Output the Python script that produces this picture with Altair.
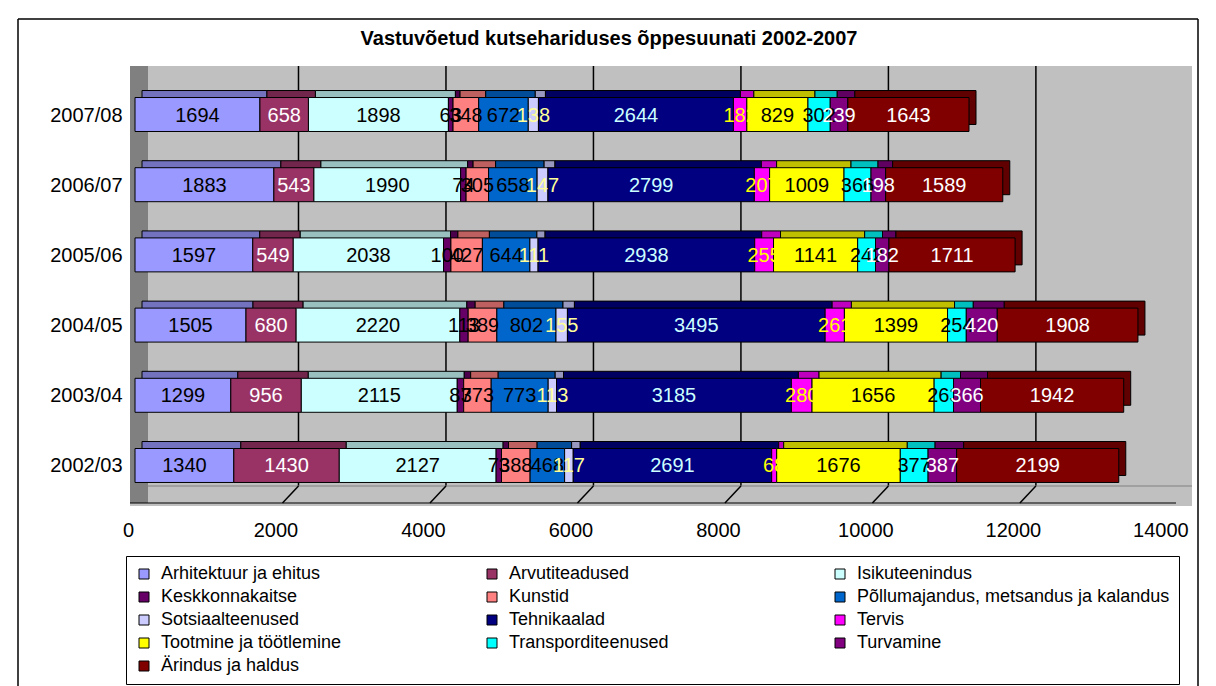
import altair as alt
import pandas as pd

F = "Liberation Sans"

years = ["2002/03", "2003/04", "2004/05", "2005/06", "2006/07", "2007/08"]
series = [
    "Arhitektuur ja ehitus", "Arvutiteadused", "Isikuteenindus",
    "Keskkonnakaitse", "Kunstid", "Põllumajandus, metsandus ja kalandus",
    "Sotsiaalteenused", "Tehnikaalad", "Tervis",
    "Tootmine ja töötlemine", "Transporditeenused", "Turvamine",
    "Ärindus ja haldus",
]
# values per series, in the order of `years`
arhitektuur = [1340, 1299, 1505, 1597, 1883, 1694]
arvutiteadused = [1430, 956, 680, 549, 543, 658]
isikuteenindus = [2127, 2115, 2220, 2038, 1990, 1898]
keskkonnakaitse = [73, 87, 113, 100, 74, 63]
kunstid = [388, 373, 389, 427, 305, 348]
pollumajandus = [468, 773, 802, 644, 658, 672]
sotsiaalteenused = [117, 113, 155, 111, 147, 138]
tehnikaalad = [2691, 3185, 3495, 2938, 2799, 2644]
tervis = [68, 280, 261, 255, 207, 182]
tootmine = [1676, 1656, 1399, 1141, 1009, 829]
transport = [377, 263, 254, 242, 366, 302]
turvamine = [387, 366, 420, 182, 198, 239]
arindus = [2199, 1942, 1908, 1711, 1589, 1643]

title_text = "Vastuvõetud kutsehariduses õppesuunati 2002-2007"
x_ticks = [0, 2000, 4000, 6000, 8000, 10000, 12000, 14000]
grid_vals = [2000, 4000, 6000, 8000, 10000, 12000]

# styles
colors = ["#9999FF", "#993366", "#CCFFFF", "#660066", "#FF8080", "#0066CC",
          "#CCCCFF", "#000080", "#FF00FF", "#FFFF00", "#00FFFF", "#800080",
          "#800000"]
label_colors = ["#000000", "#FFFFFF", "#000000", "#000000", "#000000", "#000000",
                "#FFFF99", "#CCFFFF", "#FFFF00", "#000000", "#000000", "#FFFFFF",
                "#FFFFFF"]


def darker(h, f=0.75):
    r, g, b = int(h[1:3], 16), int(h[3:5], 16), int(h[5:7], 16)
    return "#%02X%02X%02X" % (int(r * f), int(g * f), int(b * f))


all_vals = [arhitektuur, arvutiteadused, isikuteenindus, keskkonnakaitse, kunstid,
            pollumajandus, sotsiaalteenused, tehnikaalad, tervis, tootmine,
            transport, turvamine, arindus]

rows = []
for i, s in enumerate(series):
    for j, y in enumerate(years):
        rows.append({"year": y, "series": s, "order": i, "v": all_vals[i][j],
                     "dark": darker(colors[i]), "tc": label_colors[i]})
df = pd.DataFrame(rows)

W, H = 1062, 440
xs = alt.Scale(domain=[-68, 14334], nice=False, zero=False)
ys = alt.Scale(paddingInner=0.516, paddingOuter=0.392)
y_order = list(reversed(years))

x_axis = alt.Axis(
    values=x_ticks, title=None, labelFontSize=20, labelFont=F, labelColor="black",
    ticks=False, domain=False, grid=False, labelPadding=14, labelOffset=-7,
    format="d", labelFlush=False, labelOverlap=False)
y_axis = alt.Axis(
    title=None, labelFontSize=20, labelFont=F, labelColor="black", ticks=False,
    domain=False, grid=False, labelPadding=8, minExtent=117, maxExtent=117,
    labelOffset=5)

base = alt.Chart(df).transform_stack(
    stack="v", groupby=["year"], sort=[alt.SortField("order", order="ascending")],
    as_=["x0", "x1"]
).transform_calculate(mid="(datum.x0 + datum.x1) / 2")

y_enc = alt.Y("year:N", sort=y_order, scale=ys, axis=y_axis)

back = base.mark_bar(stroke="black", strokeWidth=1, xOffset=7, x2Offset=7,
                     yOffset=-3, y2Offset=-3).encode(
    x=alt.X("x0:Q", scale=xs, axis=x_axis),
    x2="x1:Q",
    y=y_enc,
    color=alt.Color("dark:N", scale=None),
)

front = base.mark_bar(stroke="black", strokeWidth=1, yOffset=4, y2Offset=4).encode(
    x=alt.X("x0:Q", scale=xs, axis=x_axis),
    x2="x1:Q",
    y=y_enc,
    color=alt.Color("series:N", scale=alt.Scale(domain=series, range=colors),
                    sort=series,
                    legend=alt.Legend(
                        title=None, orient="none", legendX=-4, legendY=490,
                        direction="horizontal",
                        columns=3, gridAlign="all", symbolType="square",
                        symbolSize=100, symbolStrokeColor="black",
                        symbolStrokeWidth=1, labelFontSize=18, labelFont=F,
                        labelColor="black", columnPadding=9, rowPadding=5,
                        padding=9, strokeColor="black", fillColor="white",
                        labelLimit=500, labelOffset=8)),
)

text = base.mark_text(fontSize=20, font=F, yOffset=5).encode(
    x=alt.X("mid:Q", scale=xs, axis=x_axis),
    y=y_enc,
    text="v:Q",
    color=alt.Color("tc:N", scale=None),
)

one = pd.DataFrame({"k": [0]})
grid_df = pd.DataFrame({"g": grid_vals})

wall = alt.Chart(one).mark_rect(color="#808080").encode(
    x=alt.value(0), x2=alt.value(18), y=alt.value(0), y2=alt.value(437))

grid = alt.Chart(grid_df).mark_rule(color="black", strokeWidth=1.5, xOffset=16).encode(
    x=alt.X("g:Q", scale=xs, axis=x_axis), y=alt.value(0), y2=alt.value(420))

floor_ticks = alt.Chart(grid_df).mark_rule(color="black", strokeWidth=1.5, xOffset=16).encode(
    x=alt.X("g:Q", scale=xs, axis=x_axis), x2="g:Q", y=alt.value(420), y2=alt.value(437))

floor_back = alt.Chart(one).mark_rule(color="#808080", strokeWidth=1).encode(
    x=alt.value(18), x2=alt.value(W), y=alt.value(420))
floor_front = alt.Chart(one).mark_rule(color="black", strokeWidth=1).encode(
    x=alt.value(0), x2=alt.value(W - 16), y=alt.value(437))

frame_l = alt.Chart(one).mark_rule(color="black", strokeWidth=1.5).encode(
    x=alt.value(-112), y=alt.value(-47), y2=alt.value(625))
frame_t = alt.Chart(one).mark_rule(color="black", strokeWidth=1.5).encode(
    x=alt.value(-112), x2=alt.value(1068), y=alt.value(-47))
frame_r = alt.Chart(one).mark_rule(color="black", strokeWidth=1.5).encode(
    x=alt.value(1068), y=alt.value(-47), y2=alt.value(625))

title = alt.Chart(one).mark_text(
    text=title_text, fontSize=20, fontWeight="bold", font=F, color="black",
    align="center", baseline="middle").encode(x=alt.value(479), y=alt.value(-27))

chart = alt.layer(
    wall, grid, floor_back, floor_ticks, floor_front, back, front, text,
    frame_l, frame_t, frame_r, title
).resolve_scale(color="independent").properties(
    width=W, height=H,
    padding={"left": 5, "top": 10, "right": 5, "bottom": 0},
).configure_view(fill="#C0C0C0", strokeWidth=0)

chart.save("out.html", embed_options={"renderer": "svg", "actions": False})
